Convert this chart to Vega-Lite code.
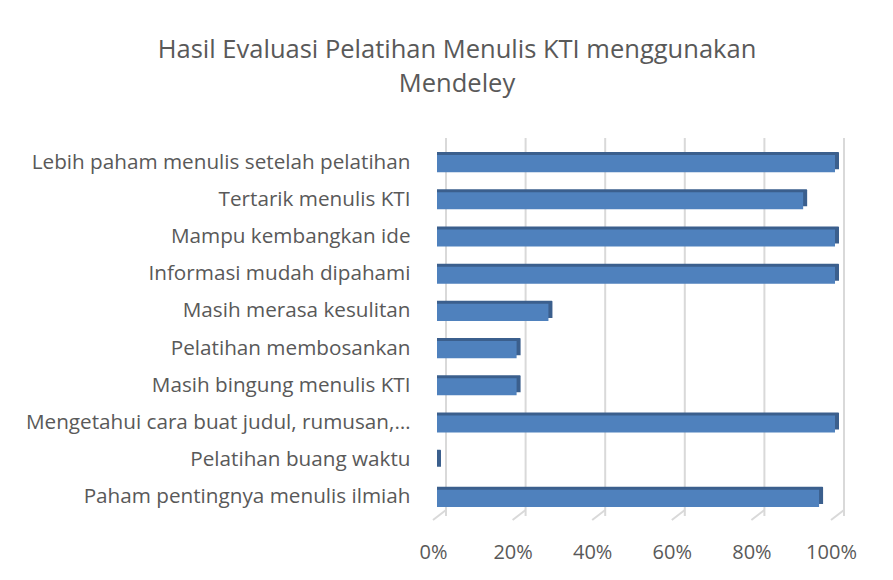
{
  "$schema": "https://vega.github.io/schema/vega-lite/v6.json",
  "autosize": "none",
  "width": 398,
  "height": 372,
  "padding": {"left": 437, "top": 144, "right": 58, "bottom": 64},
  "background": "white",
  "title": {
    "text": ["Hasil Evaluasi Pelatihan Menulis KTI menggunakan", "Mendeley"],
    "font": "Open Sans",
    "fontSize": 25.5,
    "fontWeight": "normal",
    "color": "#595959",
    "anchor": "start",
    "frame": "group",
    "align": "center",
    "dx": 20,
    "offset": 40,
    "lineHeight": 34
  },
  "config": {
    "view": {"stroke": null},
    "font": "Open Sans"
  },
  "datasets": {
    "bars": [
      {"item": "Lebih paham menulis setelah pelatihan", "value": 1.0},
      {"item": "Tertarik menulis KTI", "value": 0.92},
      {"item": "Mampu kembangkan ide", "value": 1.0},
      {"item": "Informasi mudah dipahami", "value": 1.0},
      {"item": "Masih merasa kesulitan", "value": 0.28},
      {"item": "Pelatihan membosankan", "value": 0.2},
      {"item": "Masih bingung menulis KTI", "value": 0.2},
      {"item": "Mengetahui cara buat judul, rumusan,…", "value": 1.0},
      {"item": "Pelatihan buang waktu", "value": 0.0},
      {"item": "Paham pentingnya menulis ilmiah", "value": 0.96}
    ],
    "grid": [
      {"g": 0}, {"g": 0.2}, {"g": 0.4}, {"g": 0.6}, {"g": 0.8}, {"g": 1.0}
    ]
  },
  "layer": [
    {
      "data": {"name": "grid"},
      "mark": {"type": "rule", "color": "#D9D9D9", "strokeWidth": 2, "xOffset": 9, "yOffset": -6, "y2Offset": -6},
      "encoding": {
        "x": {"field": "g", "type": "quantitative", "scale": {"domain": [0, 1]},
              "axis": {"title": null, "format": ".0%", "values": [0, 0.2, 0.4, 0.6, 0.8, 1.0],
                       "domain": false, "ticks": false, "grid": false, "labelPadding": 26, "labelOffset": -4,
                       "labelFlush": false,
                       "labelFont": "Open Sans", "labelFontSize": 20, "labelColor": "#595959"}}
      }
    },
    {
      "data": {"name": "grid"},
      "mark": {"type": "rule", "color": "#D9D9D9", "strokeWidth": 2, "xOffset": -4, "x2Offset": 9, "yOffset": 4, "y2Offset": -6},
      "encoding": {
        "x": {"field": "g", "type": "quantitative"},
        "x2": {"field": "g"},
        "y": {"value": "height"},
        "y2": {"value": "height"}
      }
    },
    {
      "data": {"name": "bars"},
      "mark": {"type": "bar", "color": "#3B5F8D", "xOffset": 4, "yOffset": -2, "y2Offset": -2, "cornerRadiusTopRight": 1},
      "encoding": {
        "y": {"field": "item", "type": "nominal", "sort": null,
              "scale": {"paddingInner": 0.54, "paddingOuter": 0.27},
              "axis": {"title": null, "domain": false, "ticks": false, "labelPadding": 27,
                       "labelFont": "Open Sans", "labelFontSize": 20.7, "labelColor": "#595959", "labelLimit": 450}},
        "x": {"field": "value", "type": "quantitative", "stack": null}
      }
    },
    {
      "data": {"name": "bars"},
      "mark": {"type": "bar", "color": "#4F81BD", "yOffset": 1, "y2Offset": 1},
      "encoding": {
        "y": {"field": "item", "type": "nominal", "sort": null},
        "x": {"field": "value", "type": "quantitative", "stack": null}
      }
    }
  ]
}
